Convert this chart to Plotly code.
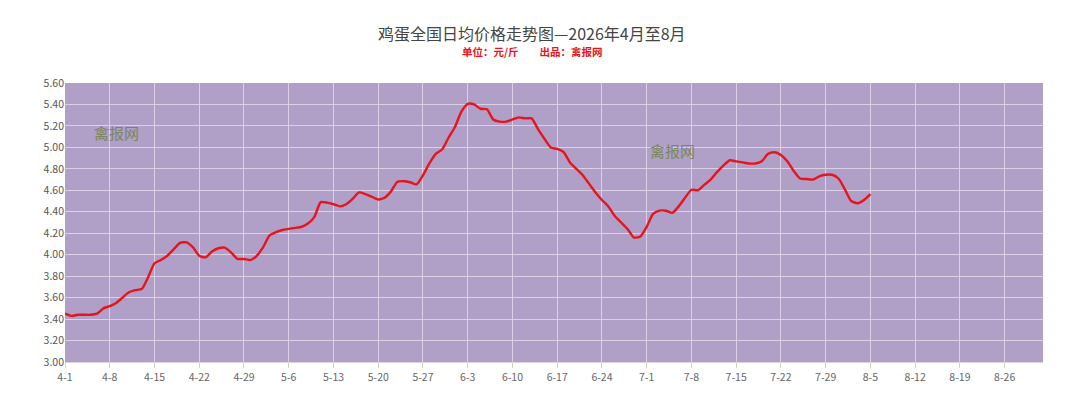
import datetime as dt
import plotly.graph_objects as go

# Data: day offset from 2026-04-01 and price (元/斤)
start = dt.date(2026, 4, 1)
prices = [
    3.45, 3.43, 3.44, 3.44, 3.44, 3.45, 3.50, 3.52, 3.55, 3.60,
    3.65, 3.67, 3.68, 3.79, 3.92, 3.95, 3.99, 4.05, 4.11, 4.115,
    4.07, 3.99, 3.975, 4.03, 4.06, 4.065, 4.02, 3.96, 3.96, 3.95,
    3.99, 4.07, 4.18, 4.21, 4.23, 4.24, 4.25, 4.26, 4.29, 4.35,
    4.49, 4.485, 4.47, 4.45, 4.47, 4.52, 4.58, 4.565, 4.54, 4.515,
    4.53, 4.59, 4.68, 4.685, 4.675, 4.655, 4.74, 4.85, 4.94, 4.98,
    5.09, 5.19, 5.33, 5.405, 5.40, 5.36, 5.355, 5.26, 5.24, 5.24,
    5.26, 5.28, 5.27, 5.27, 5.17, 5.08, 5.00, 4.985, 4.955, 4.86,
    4.80, 4.74, 4.66, 4.58, 4.51, 4.45, 4.36, 4.30, 4.24, 4.16,
    4.17, 4.26, 4.38, 4.41, 4.41, 4.39, 4.45, 4.53, 4.605, 4.60,
    4.65, 4.70, 4.77, 4.83, 4.88, 4.87, 4.86, 4.85, 4.85, 4.87,
    4.94, 4.955, 4.93, 4.87, 4.78, 4.71, 4.705, 4.70, 4.73, 4.745,
    4.745, 4.71, 4.61, 4.50, 4.48, 4.51, 4.565,
]
dates = [start + dt.timedelta(days=i) for i in range(len(prices))]

tick_dates = [start + dt.timedelta(days=7 * i) for i in range(22)]
tick_labels = [f"{d.month}-{d.day}" for d in tick_dates]

title_text = "鸡蛋全国日均价格走势图—2026年4月至8月"
subtitle_text = "单位：元/斤　　出品：禽报网"
watermark = "禽报网"

fig = go.Figure()
fig.add_trace(go.Scatter(
    x=dates, y=prices, mode="lines",
    line=dict(color="#E8141C", width=2.4, shape="spline", smoothing=0.6),
    hoverinfo="x+y", showlegend=False,
))

fig.update_layout(
    width=1080, height=418,
    margin=dict(l=57, r=45, t=75, b=64),
    paper_bgcolor="white",
    plot_bgcolor="#B09FC7",
    font=dict(family="Noto Sans CJK SC, sans-serif", color="#555"),
    showlegend=False,
)

fig.update_xaxes(
    type="date",
    range=[start.isoformat(), (start + dt.timedelta(days=153)).isoformat()],
    tickvals=tick_dates, ticktext=tick_labels,
    showgrid=True, gridcolor="#DCD0E6", gridwidth=1,
    ticks="outside", ticklen=5, tickcolor="#D0D0D0",
    showline=True, linecolor="#D8D8D8",
    tickfont=dict(size=10.5, color="#666"),
    zeroline=False, mirror=False,
)
fig.update_yaxes(
    range=[3.0, 5.6], dtick=0.2, tick0=3.0, tickformat=".2f",
    showgrid=True, gridcolor="#DCD0E6", gridwidth=1,
    tickfont=dict(size=10.5, color="#555"),
    ticks="", zeroline=False, showline=False,
)

fig.add_annotation(text=title_text, xref="paper", yref="paper",
                   x=0.478, y=1.0, yshift=50, yanchor="middle", showarrow=False,
                   borderpad=0, font=dict(size=16, color="#444"))
fig.add_annotation(text="<b>" + subtitle_text + "</b>", xref="paper", yref="paper",
                   x=0.478, y=1.0, yshift=32, yanchor="middle", showarrow=False,
                   borderpad=0, font=dict(size=10.5, color="#E8141C"))

fig.add_annotation(text=watermark, x=(start + dt.timedelta(days=8)).isoformat(), y=5.14,
                   xref="x", yref="y", showarrow=False,
                   font=dict(size=15, color="#7B875C"))
fig.add_annotation(text=watermark, x=(start + dt.timedelta(days=95)).isoformat(), y=4.97,
                   xref="x", yref="y", showarrow=False,
                   font=dict(size=15, color="#7B875C"))

fig.write_html("out.html")
